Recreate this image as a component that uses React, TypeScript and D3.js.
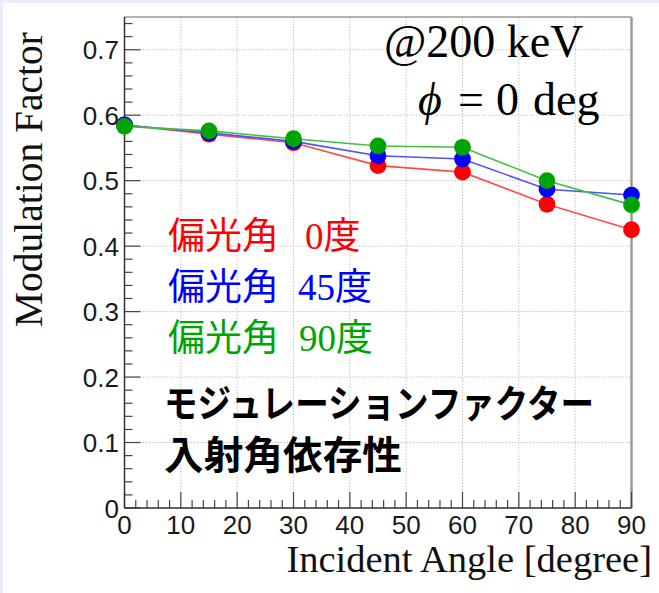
import React from "react";
import * as d3 from "d3";

const angles = [0, 15, 30, 45, 60, 75, 90];
const mfPol0 = [0.585, 0.571, 0.558, 0.523, 0.513, 0.464, 0.425];
const mfPol45 = [0.585, 0.573, 0.560, 0.538, 0.533, 0.487, 0.478];
const mfPol90 = [0.583, 0.576, 0.564, 0.553, 0.551, 0.500, 0.463];
const xTicks = [0, 10, 20, 30, 40, 50, 60, 70, 80, 90];
const yTicks = [0, 0.1, 0.2, 0.3, 0.4, 0.5, 0.6, 0.7];
const seriesNames = ["偏光角  0度", "偏光角 45度", "偏光角 90度"];

const W = 659;
const H = 593;

export default function App() {
  const x = d3.scaleLinear().domain([0, 90]).range([124.5, 631.5]);
  const y = d3.scaleLinear().domain([0, 0.75]).range([508, 17]);
  const [x0, x1] = x.range();
  const [y0, y1] = y.range();

  const series = [
    { vals: mfPol0, color: "#ff0000", line: "#ff4a4a" },
    { vals: mfPol45, color: "#0000ff", line: "#5050ff" },
    { vals: mfPol90, color: "#00a400", line: "#40c040" },
  ];

  const line = d3
    .line<[number, number]>()
    .x((d) => x(d[0]))
    .y((d) => y(d[1]));

  const xMinor = d3.range(0, 91, 2);
  const yMinor = d3.range(0, 0.7401, 0.02);

  const sans = "'Liberation Sans', Arial, sans-serif";
  const serif = "'Liberation Serif', 'Times New Roman', serif";

  const legendRows = [
    { name: seriesNames[0], color: "#ff0000", base: 249, numX: 305 },
    { name: seriesNames[1], color: "#0000ff", base: 300, numX: 298 },
    { name: seriesNames[2], color: "#00a400", base: 351, numX: 299 },
  ];

  return (
    <svg
      width={W}
      height={H}
      style={{ position: "absolute", left: 0, top: 0, display: "block" }}
    >
      <rect x={0} y={0} width={W} height={H} fill="#e8ecfb" />
      <rect x={3} y={3} width={W - 3} height={H - 3} fill="#ffffff" />

      {/* grid */}
      {xTicks.map((t) => (
        <line
          key={"gx" + t}
          x1={x(t)}
          x2={x(t)}
          y1={y0}
          y2={y1}
          stroke="#c4c4c4"
          strokeWidth={1}
          strokeDasharray="1.5,1.5"
        />
      ))}
      {yTicks.map((t) => (
        <line
          key={"gy" + t}
          x1={x0}
          x2={x1}
          y1={y(t)}
          y2={y(t)}
          stroke="#c4c4c4"
          strokeWidth={1}
          strokeDasharray="1.5,1.5"
        />
      ))}

      {/* frame */}
      <line x1={x0} x2={x1} y1={y1} y2={y1} stroke="#9a9a9a" strokeWidth={1.5} />
      <line x1={x1} x2={x1} y1={y1} y2={y0} stroke="#9a9a9a" strokeWidth={2.5} />

      {/* minor ticks */}
      {xMinor.map((t) => (
        <line
          key={"mx" + t}
          x1={x(t)}
          x2={x(t)}
          y1={y0}
          y2={y0 - (t % 10 === 0 ? 16 : 8)}
          stroke="#444"
          strokeWidth={1.2}
        />
      ))}
      {yMinor.map((t, i) => (
        <line
          key={"my" + i}
          x1={x0}
          x2={x0 + (i % 5 === 0 ? 16 : 8)}
          y1={y(t)}
          y2={y(t)}
          stroke="#444"
          strokeWidth={1.2}
        />
      ))}

      {/* axes */}
      <line x1={x0} x2={x1} y1={y0} y2={y0} stroke="#333" strokeWidth={1.5} />
      <line x1={x0} x2={x0} y1={y0} y2={y1} stroke="#333" strokeWidth={1.5} />

      {/* tick labels */}
      {xTicks.map((t) => (
        <text
          key={"lx" + t}
          x={x(t)}
          y={534}
          textAnchor="middle"
          fontFamily={sans}
          fontSize={26}
          fill="#1a1a1a"
        >
          {t}
        </text>
      ))}
      {yTicks.map((t) => (
        <text
          key={"ly" + t}
          x={119}
          y={y(t) + 9.5}
          textAnchor="end"
          fontFamily={sans}
          fontSize={26}
          fill="#1a1a1a"
        >
          {t === 0 ? "0" : t.toFixed(1)}
        </text>
      ))}

      {/* axis titles */}
      <text
        x={652}
        y={572}
        textAnchor="end"
        fontFamily={serif}
        fontSize={38.5}
        fill="#111"
      >
        Incident Angle [degree]
      </text>
      <text
        transform={`translate(42,32) rotate(-90)`}
        textAnchor="end"
        fontFamily={serif}
        fontSize={39.5}
        fill="#111"
      >
        Modulation Factor
      </text>

      {/* data */}
      {series.map((s, si) => {
        const pts = angles.map((a, i) => [a, s.vals[i]] as [number, number]);
        return (
          <g key={"s" + si}>
            <path d={line(pts) || ""} fill="none" stroke={s.line} strokeWidth={1.6} />
            {pts.map((p, i) => (
              <circle key={i} cx={x(p[0])} cy={y(p[1])} r={8.4} fill={s.color} />
            ))}
          </g>
        );
      })}

      {/* top-right annotation */}
      <text x={384} y={57} fontFamily={serif} fontSize={46} fill="#000">
        @200 keV
      </text>
      <text y={115} fontFamily={serif} fontSize={46} fill="#000">
        <tspan x={418} fontStyle="italic">ϕ</tspan>
        <tspan x={458}>=</tspan>
        <tspan x={496}>0</tspan>
        <tspan x={533}>deg</tspan>
      </text>

      {/* legend */}
      {legendRows.map((r) => {
        const kanji = r.name.slice(0, 3);
        const rest = r.name.slice(3).trim();
        const num = rest.slice(0, -1);
        return (
          <text key={r.name} y={r.base} fontSize={37} fill={r.color}>
            <tspan x={168} fontFamily="'Noto Sans CJK JP', sans-serif">{kanji}</tspan>
            <tspan x={r.numX} fontFamily={serif}>{num}</tspan>
            <tspan fontFamily="'Noto Sans CJK JP', sans-serif">度</tspan>
          </text>
        );
      })}

      <text
        x={164}
        y={417}
        fontFamily="'Noto Sans CJK JP', sans-serif"
        fontWeight={700}
        fontSize={38}
        fill="#000"
        textLength={430}
        lengthAdjust="spacingAndGlyphs"
      >
        モジュレーションファクター
      </text>
      <text
        x={164}
        y={469}
        fontFamily="'Noto Sans CJK JP', sans-serif"
        fontWeight={700}
        fontSize={39}
        fill="#000"
        textLength={238}
        lengthAdjust="spacingAndGlyphs"
      >
        入射角依存性
      </text>
    </svg>
  );
}
